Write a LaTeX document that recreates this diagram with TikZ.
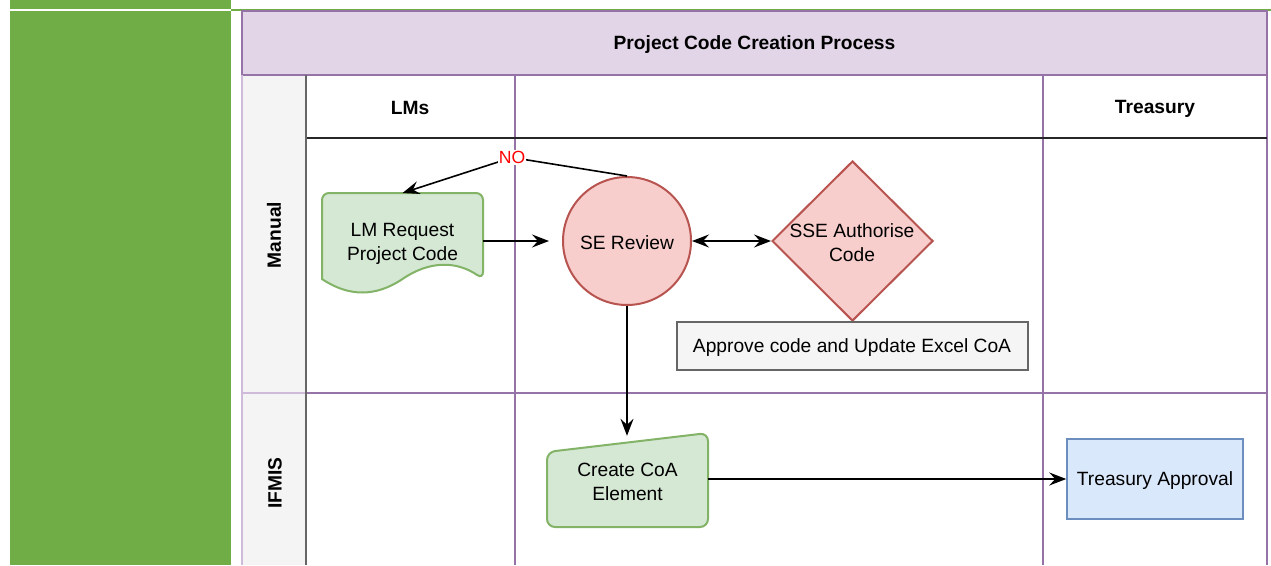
\documentclass[tikz,border=0pt]{standalone}
\usepackage{fontspec}
\setmainfont{Liberation Sans}
\usetikzlibrary{shapes.geometric,arrows.meta,calc}

\definecolor{sheetgreen}{HTML}{70AD47}
\definecolor{poolline}{HTML}{9673A6}
\definecolor{poolfill}{HTML}{E1D5E7}
\definecolor{headfill}{HTML}{F4F4F4}
\definecolor{paleline}{HTML}{CDBBD9}
\definecolor{docfill}{HTML}{D5E8D4}
\definecolor{docline}{HTML}{82B366}
\definecolor{redfill}{HTML}{F8CECC}
\definecolor{redline}{HTML}{B85450}
\definecolor{greyfill}{HTML}{F5F5F5}
\definecolor{greyline}{HTML}{666666}
\definecolor{bluefill}{HTML}{DAE8FC}
\definecolor{blueline}{HTML}{6C8EBF}

\begin{document}
\begin{tikzpicture}[x=1pt,y=-1pt,
  every node/.style={font=\fontsize{19.2}{24}\selectfont, align=center, inner sep=0pt},
  lanehead/.style={font=\fontsize{19.2}{24}\selectfont\bfseries},
  laneline/.style={draw=poolline, line width=1.5pt},
  paleedge/.style={draw=paleline, line width=1.5pt},
  greenshape/.style={draw=docline, fill=docfill, line width=2pt},
  redshape/.style={draw=redline, fill=redfill, line width=2pt},
  notebox/.style={draw=greyline, fill=greyfill, line width=1.5pt},
  bluebox/.style={draw=blueline, fill=bluefill, line width=1.5pt},
  flow/.style={draw=black, line width=1.6pt, -{Stealth[length=17pt,width=13pt,inset=6pt]}},
  twoway/.style={draw=black, line width=1.6pt, {Stealth[length=17pt,width=13pt,inset=6pt]}-{Stealth[length=17pt,width=13pt,inset=6pt]}},
  edgelabel/.style={text=red, fill=white, font=\fontsize{17.6}{20}\selectfont, inner sep=1pt}
]
% canvas
\path[fill=white] (0,0) rectangle (1271,565);
\useasboundingbox (0,0) rectangle (1271,565);

% spreadsheet column on the left
\fill[sheetgreen] (10,0) rectangle (231,9);
\fill[sheetgreen] (10,11) rectangle (231,565);
\draw[sheetgreen, line width=1.4pt] (231,10) -- (1271,10);

% pool: title band, header column
\fill[poolfill] (242,11) rectangle (1267,75);
\fill[headfill] (242,75) rectangle (306,565);
\draw[laneline] (242,75) -- (242,11) -- (1267,11) -- (1267,565);
\draw[laneline] (242,75) -- (1267,75);
\draw[paleedge] (242,75) -- (242,565);
\draw[paleedge] (242,393) -- (306,393);
\draw[laneline] (306,393) -- (1267,393);
\draw[laneline] (515,75) -- (515,565);
\draw[laneline] (1043,75) -- (1043,565);
\draw[draw=black!85, line width=1.6pt] (306,138) -- (1267,138);
\draw[draw=greyline, line width=1.6pt] (306,75) -- (306,565);

% headings
\node[lanehead] (title) at (754.5,45) {Project Code Creation Process};
\node[lanehead] (lmhead) at (410,107.5) {LMs};
\node[lanehead] (treashead) at (1155,108.5) {Treasury};
\node[lanehead, rotate=90] (manualhead) at (274,235) {Manual};
\node[lanehead, rotate=90] (ifmishead) at (275,483) {IFMIS};

% document shape: LM request
\path[greenshape] (322,279) [rounded corners=7pt] -- (322,193) -- (483,193) -- (483,279) [sharp corners]
  .. controls (456.2,260.7) and (429.3,260.7) .. (402.5,279)
  .. controls (375.7,297) and (348.8,297) .. (322,279) -- cycle;
\node[minimum width=161pt, minimum height=97pt] (lm) at (402.5,243.5) {LM Request\\Project Code};

% review circle
\node[circle, redshape, minimum size=128pt] (se) at (627,241) {};
\node (setext) at (627,242.5) {SE Review};

% authorisation diamond
\node[diamond, redshape, minimum width=161pt, minimum height=160pt] (sse) at (852.5,241) {};
\node (ssetext) at (852,243) {SSE Authorise\\Code};

% note
\node[notebox, minimum width=351pt, minimum height=48pt] (approve) at (852.5,346) {};
\node (approvetext) at (852,347.5) {Approve code and Update Excel CoA};

% manual input shape: create CoA element
\path[greenshape, rounded corners=8pt] (547,452) -- (708,433) -- (708,527) -- (547,527) -- cycle;
\node[minimum width=161pt, minimum height=94pt] (coa) at (627.5,481.5) {Create CoA\\Element};

% treasury approval
\node[bluebox, minimum width=176pt, minimum height=80pt] (treas) at (1155,479) {};
\node (treastext) at (1155,480.5) {Treasury Approval};

% connectors
\draw[flow] (lm.east |- se.center) -- ([xshift=-13pt]se.west);
\draw[twoway] (se.east) -- (sse.west);
\draw[flow] (se.south) -- ([yshift=-1.5pt]se.south |- coa.north);
\draw[flow] (coa.east |- treas.west) -- (treas.west);
\coordinate (noturn) at (512,157.5);
\draw[flow] (se.north) -- (noturn) -- (lm.north |- 0,193);
\node[edgelabel] (nolabel) at (noturn) {NO};
\end{tikzpicture}
\end{document}
